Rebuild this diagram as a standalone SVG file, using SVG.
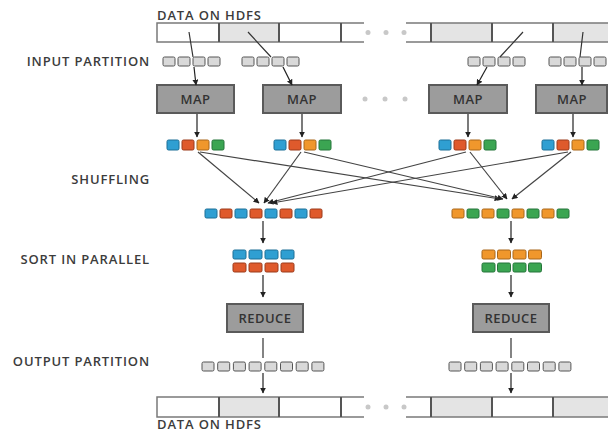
<svg xmlns="http://www.w3.org/2000/svg" width="608" height="432" viewBox="0 0 608 432">
<defs>
<style>
.lbl{font-family:"Open Sans","Liberation Sans",sans-serif;font-size:13px;font-weight:600;letter-spacing:0.85px;fill:#3c3c3c}
.boxt{font-family:"Open Sans","Liberation Sans",sans-serif;font-size:13px;font-weight:600;letter-spacing:0.5px;fill:#333;text-anchor:middle}
.box{fill:#9c9c9c;stroke:#5a5a5a;stroke-width:2}
.bar{fill:none;stroke:#7a7a7a;stroke-width:1.5}
.div{stroke:#555;stroke-width:2}
.gray{fill:#e4e4e4}
.dot{fill:#c8c8c8}
.sq{fill:#d9d9d9;stroke:#555;stroke-width:1}
.b{fill:#2f9fd2;stroke:#1d6f96;stroke-width:1}
.r{fill:#df5a2c;stroke:#9b3a1a;stroke-width:1}
.o{fill:#f0972c;stroke:#a8661a;stroke-width:1}
.g{fill:#3ba552;stroke:#25743a;stroke-width:1}
.ln{stroke:#333;stroke-width:1.2;fill:none}
.ar{stroke:#222;stroke-width:1.2;fill:none;marker-end:url(#ah)}
.sh{stroke:#444;stroke-width:1.2;fill:none;marker-end:url(#ah)}
</style>
<marker id="ah" viewBox="0 0 10 10" refX="9" refY="5" markerWidth="6" markerHeight="6" orient="auto" markerUnits="userSpaceOnUse">
<path d="M0,0 L10,5 L0,10 z" fill="#222"/>
</marker>
</defs>
<rect width="608" height="432" fill="#fff"/>

<g id="labels">
<text class="lbl" x="157" y="19.5">DATA ON HDFS</text>
<text class="lbl" x="150" y="65.5" text-anchor="end">INPUT PARTITION</text>
<text class="lbl" x="150" y="184" text-anchor="end">SHUFFLING</text>
<text class="lbl" x="150" y="264" text-anchor="end">SORT IN PARALLEL</text>
<text class="lbl" x="150" y="366" text-anchor="end">OUTPUT PARTITION</text>
<text class="lbl" x="157" y="429">DATA ON HDFS</text>
</g>

<g id="hdfs-top">
<rect class="gray" x="219" y="23" width="60" height="19"/>
<rect class="gray" x="431" y="23" width="61" height="19"/>
<rect class="gray" x="553" y="23" width="55" height="19"/>
<path class="bar" d="M364,23 H157 V42 H364 M406,23 H608 M406,42 H608"/>
<path class="div" d="M219,23 V42 M279,23 V42 M341,23 V42 M431,23 V42 M492,23 V42 M553,23 V42"/>
<circle class="dot" cx="368" cy="32.5" r="2.5"/><circle class="dot" cx="386" cy="32.5" r="2.5"/><circle class="dot" cx="404" cy="32.5" r="2.5"/>
</g>

<g id="input-partitions">
<rect class="sq" x="163" y="57" width="12" height="9" rx="1.5"/><rect class="sq" x="178" y="57" width="12" height="9" rx="1.5"/><rect class="sq" x="193" y="57" width="12" height="9" rx="1.5"/><rect class="sq" x="208" y="57" width="12" height="9" rx="1.5"/>
<rect class="sq" x="242" y="57" width="12" height="9" rx="1.5"/><rect class="sq" x="257" y="57" width="12" height="9" rx="1.5"/><rect class="sq" x="272" y="57" width="12" height="9" rx="1.5"/><rect class="sq" x="287" y="57" width="12" height="9" rx="1.5"/>
<rect class="sq" x="468" y="57" width="12" height="9" rx="1.5"/><rect class="sq" x="483" y="57" width="12" height="9" rx="1.5"/><rect class="sq" x="498" y="57" width="12" height="9" rx="1.5"/><rect class="sq" x="513" y="57" width="12" height="9" rx="1.5"/>
<rect class="sq" x="549" y="57" width="12" height="9" rx="1.5"/><rect class="sq" x="564" y="57" width="12" height="9" rx="1.5"/><rect class="sq" x="579" y="57" width="12" height="9" rx="1.5"/><rect class="sq" x="594" y="57" width="12" height="9" rx="1.5"/>
</g>

<g id="map1"><rect class="box" x="157" y="85" width="77" height="28"/><text class="boxt" x="195.5" y="104">MAP</text></g>
<g id="map2"><rect class="box" x="263" y="85" width="78" height="28"/><text class="boxt" x="302" y="104">MAP</text></g>
<g id="map3"><rect class="box" x="429" y="85" width="78" height="28"/><text class="boxt" x="468" y="104">MAP</text></g>
<g id="map4"><rect class="box" x="536" y="85" width="71" height="28"/><text class="boxt" x="572" y="104">MAP</text></g>
<g id="map-dots"><circle class="dot" cx="365" cy="99" r="2.5"/><circle class="dot" cx="385" cy="99" r="2.5"/><circle class="dot" cx="405" cy="99" r="2.5"/></g>

<g id="map-outputs">
<rect class="b" x="167" y="140" width="12" height="10" rx="1.5"/><rect class="r" x="182" y="140" width="12" height="10" rx="1.5"/><rect class="o" x="197" y="140" width="12" height="10" rx="1.5"/><rect class="g" x="212" y="140" width="12" height="10" rx="1.5"/>
<rect class="b" x="274" y="140" width="12" height="10" rx="1.5"/><rect class="r" x="289" y="140" width="12" height="10" rx="1.5"/><rect class="o" x="304" y="140" width="12" height="10" rx="1.5"/><rect class="g" x="319" y="140" width="12" height="10" rx="1.5"/>
<rect class="b" x="439" y="140" width="12" height="10" rx="1.5"/><rect class="r" x="454" y="140" width="12" height="10" rx="1.5"/><rect class="o" x="469" y="140" width="12" height="10" rx="1.5"/><rect class="g" x="484" y="140" width="12" height="10" rx="1.5"/>
<rect class="b" x="542" y="140" width="12" height="10" rx="1.5"/><rect class="r" x="557" y="140" width="12" height="10" rx="1.5"/><rect class="o" x="572" y="140" width="12" height="10" rx="1.5"/><rect class="g" x="587" y="140" width="12" height="10" rx="1.5"/>
</g>

<g id="reduce-inputs">
<rect class="b" x="205" y="209" width="12" height="9" rx="1.5"/><rect class="r" x="220" y="209" width="12" height="9" rx="1.5"/><rect class="b" x="235" y="209" width="12" height="9" rx="1.5"/><rect class="r" x="250" y="209" width="12" height="9" rx="1.5"/><rect class="b" x="265" y="209" width="12" height="9" rx="1.5"/><rect class="r" x="280" y="209" width="12" height="9" rx="1.5"/><rect class="b" x="295" y="209" width="12" height="9" rx="1.5"/><rect class="r" x="310" y="209" width="12" height="9" rx="1.5"/>
<rect class="o" x="452" y="209" width="12" height="9" rx="1.5"/><rect class="g" x="467" y="209" width="12" height="9" rx="1.5"/><rect class="o" x="482" y="209" width="12" height="9" rx="1.5"/><rect class="g" x="497" y="209" width="12" height="9" rx="1.5"/><rect class="o" x="512" y="209" width="12" height="9" rx="1.5"/><rect class="g" x="527" y="209" width="12" height="9" rx="1.5"/><rect class="o" x="542" y="209" width="12" height="9" rx="1.5"/><rect class="g" x="557" y="209" width="12" height="9" rx="1.5"/>
</g>

<g id="sorted">
<rect class="b" x="233" y="250" width="13" height="9" rx="1.5"/><rect class="b" x="249" y="250" width="13" height="9" rx="1.5"/><rect class="b" x="265" y="250" width="13" height="9" rx="1.5"/><rect class="b" x="281" y="250" width="13" height="9" rx="1.5"/>
<rect class="r" x="233" y="263" width="13" height="9" rx="1.5"/><rect class="r" x="249" y="263" width="13" height="9" rx="1.5"/><rect class="r" x="265" y="263" width="13" height="9" rx="1.5"/><rect class="r" x="281" y="263" width="13" height="9" rx="1.5"/>
<rect class="o" x="482" y="250" width="13" height="9" rx="1.5"/><rect class="o" x="497.5" y="250" width="13" height="9" rx="1.5"/><rect class="o" x="513" y="250" width="13" height="9" rx="1.5"/><rect class="o" x="528.5" y="250" width="13" height="9" rx="1.5"/>
<rect class="g" x="482" y="263" width="13" height="9" rx="1.5"/><rect class="g" x="497.5" y="263" width="13" height="9" rx="1.5"/><rect class="g" x="513" y="263" width="13" height="9" rx="1.5"/><rect class="g" x="528.5" y="263" width="13" height="9" rx="1.5"/>
</g>

<g id="reduce1"><rect class="box" x="227" y="304" width="76" height="28"/><text class="boxt" x="265" y="323">REDUCE</text></g>
<g id="reduce2"><rect class="box" x="473" y="304" width="76" height="28"/><text class="boxt" x="511" y="323">REDUCE</text></g>

<g id="output-partitions">
<rect class="sq" x="202" y="362" width="12" height="9" rx="1.5"/><rect class="sq" x="217.7" y="362" width="12" height="9" rx="1.5"/><rect class="sq" x="233.4" y="362" width="12" height="9" rx="1.5"/><rect class="sq" x="249.1" y="362" width="12" height="9" rx="1.5"/><rect class="sq" x="264.8" y="362" width="12" height="9" rx="1.5"/><rect class="sq" x="280.5" y="362" width="12" height="9" rx="1.5"/><rect class="sq" x="296.2" y="362" width="12" height="9" rx="1.5"/><rect class="sq" x="311.9" y="362" width="12" height="9" rx="1.5"/>
<rect class="sq" x="449" y="362" width="12" height="9" rx="1.5"/><rect class="sq" x="464.7" y="362" width="12" height="9" rx="1.5"/><rect class="sq" x="480.4" y="362" width="12" height="9" rx="1.5"/><rect class="sq" x="496.1" y="362" width="12" height="9" rx="1.5"/><rect class="sq" x="511.8" y="362" width="12" height="9" rx="1.5"/><rect class="sq" x="527.5" y="362" width="12" height="9" rx="1.5"/><rect class="sq" x="543.2" y="362" width="12" height="9" rx="1.5"/><rect class="sq" x="558.9" y="362" width="12" height="9" rx="1.5"/>
</g>

<g id="hdfs-bottom">
<rect class="gray" x="219" y="397" width="60" height="20"/>
<rect class="gray" x="431" y="397" width="61" height="20"/>
<rect class="gray" x="553" y="397" width="55" height="20"/>
<path class="bar" d="M364,397 H157 V417 H364 M406,397 H608 M406,417 H608"/>
<path class="div" d="M219,397 V417 M279,397 V417 M341,397 V417 M431,397 V417 M492,397 V417 M553,397 V417"/>
<circle class="dot" cx="368" cy="407" r="2.5"/><circle class="dot" cx="386" cy="407" r="2.5"/><circle class="dot" cx="404" cy="407" r="2.5"/>
</g>

<g id="connectors">
<path class="ln" d="M189,32 L193,57 M248,32 L271,57 M523,32 L500,57 M583,32 L580,57"/>
<path class="ar" d="M194,67 L196,85"/>
<path class="ar" d="M283,67 L292,85"/>
<path class="ar" d="M487,67 L477,85"/>
<path class="ar" d="M582,67 L582,85"/>
<path class="ar" d="M197,114 V137"/>
<path class="ar" d="M302,114 V137"/>
<path class="ar" d="M468,114 V137"/>
<path class="ar" d="M573,114 V137"/>
<path class="sh" d="M198,152 L259,203"/>
<path class="sh" d="M200,152 L500,199"/>
<path class="sh" d="M301,152 L264,203"/>
<path class="sh" d="M304,152 L503,199"/>
<path class="sh" d="M466,152 L268,203"/>
<path class="sh" d="M470,152 L507,199"/>
<path class="sh" d="M568,152 L272,203"/>
<path class="sh" d="M571,152 L512,199"/>
<path class="ar" d="M263,221 V243"/>
<path class="ar" d="M511,221 V243"/>
<path class="ar" d="M263,275 V297"/>
<path class="ar" d="M511,275 V297"/>
<path class="ln" d="M263,338 V358 M511,338 V358"/>
<path class="ar" d="M263,373 V393"/>
<path class="ar" d="M511,373 V393"/>
</g>
</svg>
